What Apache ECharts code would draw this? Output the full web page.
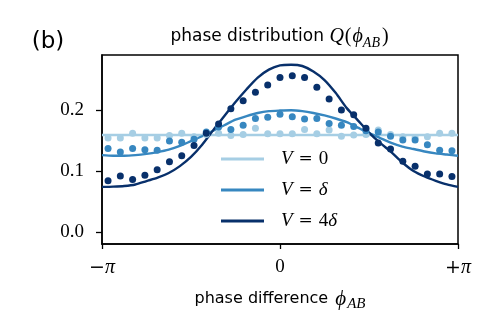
<!DOCTYPE html>
<html><head><meta charset="utf-8">
<script src="https://cdn.jsdelivr.net/npm/echarts@6/dist/echarts.min.js"></script>
<style>html,body{margin:0;padding:0;background:#fff}#c{width:498px;height:332px}</style>
</head><body><div id="c"></div>
<script>
// x in units of pi
const phiLine = [-1,-0.9375,-0.875,-0.8125,-0.75,-0.6875,-0.625,-0.5625,-0.5,-0.4375,-0.375,-0.3125,-0.25,-0.1875,-0.125,-0.0625,0,
                 0.0625,0.125,0.1875,0.25,0.3125,0.375,0.4375,0.5,0.5625,0.625,0.6875,0.75,0.8125,0.875,0.9375,1];
const lineV0  = [0.159,0.159,0.159,0.159,0.159,0.159,0.159,0.159,0.159,0.159,0.159,0.159,0.159,0.159,0.159,0.159,0.159,
                 0.159,0.159,0.159,0.159,0.159,0.159,0.159,0.159,0.159,0.159,0.159,0.159,0.159,0.159,0.159,0.159];
const lineVd  = [0.126,0.125,0.125,0.126,0.128,0.131,0.135,0.141,0.149,0.157,0.166,0.175,0.184,0.190,0.195,0.198,0.199,
                 0.1995,0.198,0.195,0.191,0.186,0.180,0.171,0.162,0.154,0.146,0.140,0.136,0.132,0.129,0.127,0.125];
const lineV4d = [0.074,0.0745,0.0755,0.078,0.0836,0.089,0.0967,0.108,0.123,0.143,0.167,0.190,0.213,0.234,0.253,0.266,0.273,
                 0.274,0.272,0.263,0.249,0.228,0.203,0.183,0.163,0.146,0.131,0.114,0.100,0.091,0.084,0.078,0.074];

const binCenters = [-0.966,-0.897,-0.828,-0.759,-0.690,-0.621,-0.552,-0.483,-0.414,-0.345,-0.276,-0.207,-0.138,-0.069,0,0.069,0.138,0.207,0.276,0.345,0.414,0.483,0.552,0.621,0.690,0.759,0.828,0.897,0.966];
const dotsV0  = [0.154,0.154,0.162,0.154,0.154,0.158,0.162,0.156,0.160,0.162,0.158,0.160,0.170,0.161,0.161,0.161,0.168,0.161,0.167,0.157,0.159,0.160,0.167,0.160,0.156,0.155,0.156,0.162,0.162];
const dotsVd  = [0.137,0.131,0.137,0.135,0.134,0.149,0.147,0.152,0.164,0.172,0.168,0.175,0.186,0.188,0.193,0.189,0.185,0.186,0.178,0.175,0.173,0.166,0.164,0.157,0.151,0.151,0.143,0.134,0.133];
const dotsV4d = [0.084,0.092,0.086,0.093,0.102,0.115,0.125,0.142,0.162,0.177,0.202,0.215,0.229,0.241,0.253,0.256,0.253,0.237,0.218,0.200,0.192,0.170,0.146,0.136,0.116,0.108,0.095,0.095,0.091];

const xTicks = [-1,0,1];
const xTickLabels = ['{s|−}{p|π}','{d|0}','{s|+}{p|π}'];
const yTicks = [0,0.1,0.2];

const names = ['V = 0','V = δ','V = 4δ'];
const colors = ['#a6cee4','#3787c0','#08306b'];
const lines = [lineV0,lineVd,lineV4d];
const dots = [dotsV0,dotsVd,dotsV4d];

const serif = '"Liberation Serif","DejaVu Serif",serif';
const dserif = '"DejaVu Serif",serif';
const sans = '"DejaVu Sans",sans-serif';

const series = [];
for (let s = 0; s < 3; s++) {
  series.push({
    name: names[s], type:'line', smooth:0.25, showSymbol:false, color: colors[s],
    lineStyle:{width:2.4,color:colors[s]}, z:2,
    data: phiLine.map((x,i)=>[x,lines[s][i]])
  });
}
for (let s = 0; s < 3; s++) {
  series.push({
    name: 'dots'+s, type:'scatter', symbolSize:7, color: colors[s],
    itemStyle:{color:colors[s],opacity:1}, z:3,
    data: binCenters.map((x,i)=>[x,dots[s][i]])
  });
}

const chart = echarts.init(document.getElementById('c'));
chart.setOption({
  animation:false,
  grid:{left:102,right:40,top:55,bottom:88,show:true,borderColor:'#000',borderWidth:1.5,backgroundColor:'transparent'},
  xAxis:{type:'value',min:-1,max:1,
    axisLine:{show:true,onZero:false,lineStyle:{color:'#000',width:1.5}},
    splitLine:{show:false},
    axisTick:{show:true,length:5,inside:false,customValues:xTicks,lineStyle:{color:'#000',width:1.3}},
    axisLabel:{customValues:xTicks,margin:14,color:'#000',fontFamily:serif,fontSize:18,
      formatter:v=>{const i=xTicks.findIndex(t=>Math.abs(t-v)<1e-6);return i>=0?xTickLabels[i]:'';},
      rich:{s:{fontFamily:dserif,fontSize:19,color:'#000'},
            p:{fontFamily:serif,fontStyle:'italic',fontSize:20,color:'#000'},
            d:{fontFamily:serif,fontSize:19,color:'#000'}}}
  },
  yAxis:{type:'value',min:-0.0195,max:0.29,
    axisLine:{show:true,onZero:false,lineStyle:{color:'#000',width:1.5}},
    splitLine:{show:false},
    axisTick:{show:true,length:6,inside:false,customValues:yTicks,lineStyle:{color:'#000',width:1.3}},
    axisLabel:{customValues:yTicks,margin:18,color:'#000',fontFamily:serif,fontSize:19,
      formatter:v=>v.toFixed(1)}
  },
  legend:{data:names,orient:'vertical',left:216,top:143,itemWidth:43,itemHeight:3,itemGap:9,icon:'rect',
    formatter:n=>{
      if(n==='V = 0') return '{i|V}{e|=}{r|0}';
      if(n==='V = δ') return '{i|V}{e|=}{i|δ}';
      return '{i|V}{e|=}{r|4}{i|δ}';
    },
    textStyle:{padding:[0,0,0,12],lineHeight:22,
      rich:{i:{fontFamily:serif,fontStyle:'italic',fontSize:19,color:'#000'},
            e:{fontFamily:dserif,fontSize:17,color:'#000',padding:[0,6,0,6]},
            r:{fontFamily:serif,fontSize:19,color:'#000'}}}
  },
  graphic:[
    {type:'text',x:280,y:37,style:{
      text:'{s|phase distribution }{m|Q}{r|(}{m|ϕ}{sub|AB}{r|)}',
      align:'center',verticalAlign:'middle',textAlign:'center',textVerticalAlign:'middle',
      rich:{
        s:{fontFamily:sans,fontSize:17,lineHeight:26,verticalAlign:'middle',fill:'#000',color:'#000'},
        m:{fontFamily:serif,fontStyle:'italic',fontSize:20,lineHeight:26,verticalAlign:'middle',fill:'#000',color:'#000'},
        r:{fontFamily:serif,fontSize:20,lineHeight:26,verticalAlign:'middle',fill:'#000',color:'#000',padding:[0,1,0,1]},
        sub:{fontFamily:serif,fontStyle:'italic',fontSize:14,lineHeight:14,verticalAlign:'bottom',fill:'#000',color:'#000',padding:[0,1,0,0]}
      }}},
    {type:'text',x:280,y:299,style:{
      text:'{s|phase difference }{m|ϕ}{sub|AB}',
      align:'center',verticalAlign:'middle',textAlign:'center',textVerticalAlign:'middle',
      rich:{
        s:{fontFamily:sans,fontSize:16,lineHeight:26,verticalAlign:'middle',fill:'#000',color:'#000'},
        m:{fontFamily:serif,fontStyle:'italic',fontSize:21,lineHeight:26,verticalAlign:'middle',fill:'#000',color:'#000',padding:[0,1,0,2]},
        sub:{fontFamily:serif,fontStyle:'italic',fontSize:15,lineHeight:14,verticalAlign:'bottom',fill:'#000',color:'#000'}
      }}},
    {type:'text',x:48,y:42,style:{text:'(b)',font:'23px "DejaVu Sans",sans-serif',fill:'#000',
      align:'center',verticalAlign:'middle',textAlign:'center',textVerticalAlign:'middle'}}
  ],
  series:series
});
</script></body></html>
